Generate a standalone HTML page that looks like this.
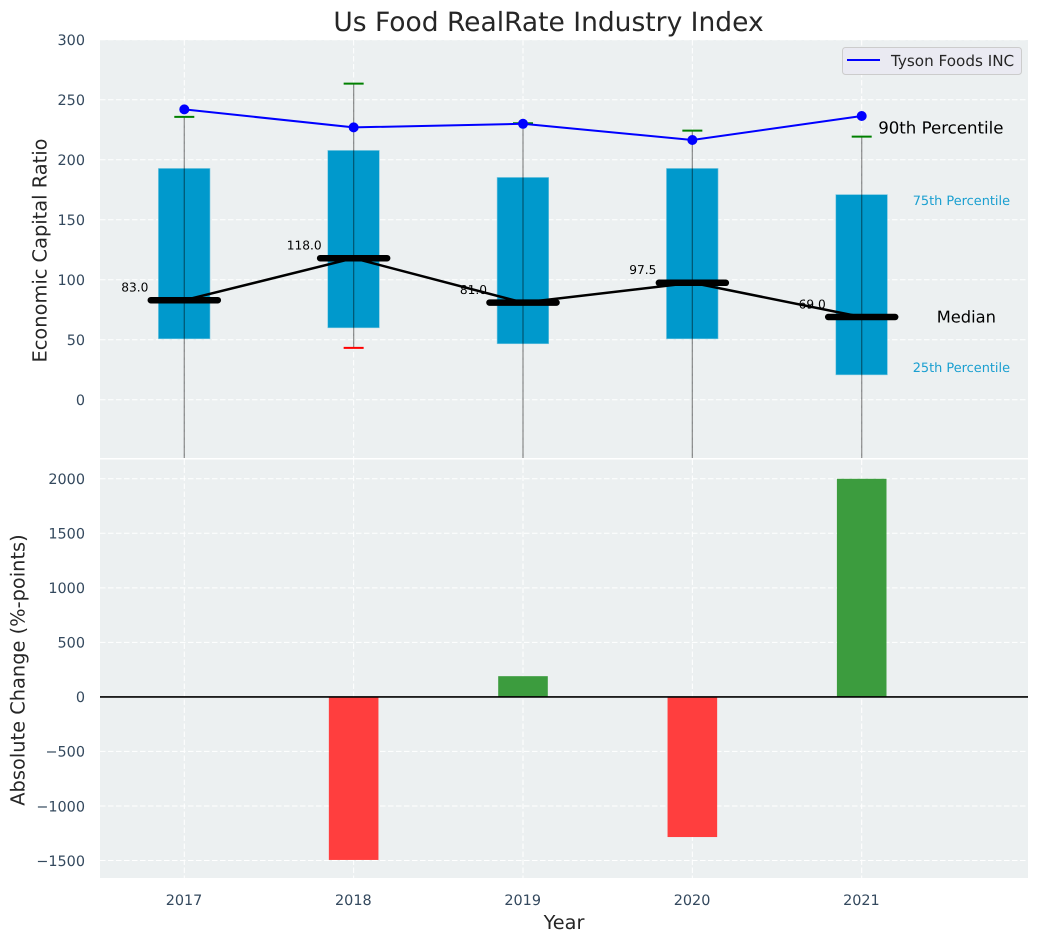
<!DOCTYPE html>
<html lang="en">
<head>
<meta charset="utf-8">
<title>Us Food RealRate Industry Index</title>
<style>
html,body{margin:0;padding:0;background:#fff;}
body{width:1039px;height:942px;overflow:hidden;}
svg{display:block;font-family:"DejaVu Sans","Liberation Sans",sans-serif;text-rendering:geometricPrecision;}
</style>
</head>
<body>
<svg id="chart" xmlns="http://www.w3.org/2000/svg" width="1039" height="942" viewBox="0 0 1039 942">
  <defs>
    <clipPath id="top-clip"><rect x="100" y="40" width="928" height="418"></rect></clipPath>
    <clipPath id="bottom-clip"><rect x="100" y="459.5" width="928" height="418.5"></rect></clipPath>
  </defs>
  <rect x="100" y="40" width="928" height="418" fill="#ecf0f1"></rect>
  <rect x="100" y="459.5" width="928" height="418.5" fill="#ecf0f1"></rect>
  <g id="top-grid"></g>
  <g id="bottom-grid"></g>
  <g id="top-marks" clip-path="url(#top-clip)"></g>
  <g id="bottom-marks" clip-path="url(#bottom-clip)"></g>
  <g id="axis-labels"></g>
  <g id="annotations"></g>
  <text x="548.5" y="31" text-anchor="middle" font-size="26.5px" fill="#262626">Us Food RealRate Industry Index</text>
  <text x="564" y="929" text-anchor="middle" font-size="19.3px" fill="#262626">Year</text>
  <text transform="translate(46.5 250.5) rotate(-90)" text-anchor="middle" font-size="19.4px" fill="#262626">Economic Capital Ratio</text>
  <text transform="translate(24.5 670) rotate(-90)" text-anchor="middle" font-size="19.4px" fill="#262626">Absolute Change (%-points)</text>
  <g>
    <rect x="842.5" y="47.5" width="179" height="27" rx="3" fill="#eaeaf2" stroke="#cccccc" stroke-width="1"></rect>
    <line x1="847" y1="60" x2="880" y2="60" stroke="#0000ff" stroke-width="2"></line>
    <text x="891" y="66" font-size="15.2px" fill="#262626">Tyson Foods INC</text>
  </g>
</svg>
<script>
const years = [2017, 2018, 2019, 2020, 2021];
const tyson = [242, 227, 230, 216.5, 236.5];
const q1 = [50.8, 60, 46.7, 50.8, 20.8];
const q3 = [192.8, 207.8, 185.3, 192.8, 171];
const medians = [83, 118, 81, 97.5, 69];
const p90 = [235.8, 263.5, 230.5, 224.3, 219.3];
const p10 = [-90, 43.3, -90, -90, -90];
const changes = [0, -1495, 190, -1285, 2000];
const topTicks = [0, 50, 100, 150, 200, 250, 300];
const bottomTicks = [-1500, -1000, -500, 0, 500, 1000, 1500, 2000];

const NS = 'http://www.w3.org/2000/svg';
const xs = v => 184.3 + (v - 2017) * 169.35;
const yTop = v => 399.8 - v * 1.2;
const yBottom = v => 696.9 - v * 0.10906;

function make(parent, tag, props, txt) {
  const el = document.createElementNS(NS, tag);
  for (const k in props) el.setAttribute(k, props[k]);
  if (txt !== undefined) el.textContent = txt;
  parent.appendChild(el);
  return el;
}
function fmtTick(v) {
  return v < 0 ? '\u2212' + Math.abs(v) : String(v);
}

const topGrid = document.getElementById('top-grid');
const bottomGrid = document.getElementById('bottom-grid');
const topMarks = document.getElementById('top-marks');
const bottomMarks = document.getElementById('bottom-marks');
const axisLabels = document.getElementById('axis-labels');
const annotations = document.getElementById('annotations');
const gridStyle = {stroke: '#ffffff', 'stroke-width': 1, 'stroke-dasharray': '5.5 2.5'};

topTicks.forEach(t => {
  const line = make(topGrid, 'line', Object.assign({x1: 100, x2: 1028, y1: yTop(t), y2: yTop(t)}, gridStyle));
  
  
  const label = make(axisLabels, 'text', {x: 85, y: yTop(t) + 5.3, 'text-anchor': 'end', 'font-size': '14.4px', fill: '#34495e'}, fmtTick(t));
  
  
});
bottomTicks.forEach(t => {
  const line = make(bottomGrid, 'line', Object.assign({x1: 100, x2: 1028, y1: yBottom(t), y2: yBottom(t)}, gridStyle));
  
  
  const label = make(axisLabels, 'text', {x: 85, y: yBottom(t) + 5.3, 'text-anchor': 'end', 'font-size': '14.4px', fill: '#34495e'}, fmtTick(t));
  
  
});
years.forEach(y => {
  const a = make(topGrid, 'line', Object.assign({x1: xs(y), x2: xs(y), y1: 40, y2: 458}, gridStyle));
  
  
  const b = make(bottomGrid, 'line', Object.assign({x1: xs(y), x2: xs(y), y1: 459.5, y2: 878}, gridStyle));
  
  
  const label = make(axisLabels, 'text', {x: xs(y) - 0.3, y: 905, 'text-anchor': 'middle', 'font-size': '14.4px', fill: '#34495e'}, String(y));
  
  
});

/* interquartile boxes */
years.forEach((y, i) => {
  const box = make(topMarks, 'rect', {x: xs(y) - 25.9, y: yTop(q3[i]), width: 51.6, height: yTop(q1[i]) - yTop(q3[i]), fill: '#0099cc', stroke: '#7cc8e0', 'stroke-width': 0.6});
  
  
});
/* whiskers and caps */
years.forEach((y, i) => {
  const w = make(topMarks, 'line', {x1: xs(y), x2: xs(y), y1: yTop(p90[i]), y2: yTop(p10[i]), stroke: '#000000', 'stroke-opacity': 0.42, 'stroke-width': 1.3});
  
  
  const capTop = make(topMarks, 'line', {x1: xs(y) - 10, x2: xs(y) + 10, y1: yTop(p90[i]), y2: yTop(p90[i]), stroke: '#008000', 'stroke-width': 2});
  
  
  const capLow = make(topMarks, 'line', {x1: xs(y) - 10, x2: xs(y) + 10, y1: yTop(p10[i]), y2: yTop(p10[i]), stroke: '#ff0000', 'stroke-width': 2});
  
  
});
/* median connecting line */
const medianLine = make(topMarks, 'polyline', {points: years.map((y, i) => xs(y) + ',' + yTop(medians[i])).join(' '), fill: 'none', stroke: '#000000', 'stroke-width': 2.5});


/* median bars and labels */
years.forEach((y, i) => {
  const m = make(topMarks, 'line', {x1: xs(y) - 33.5, x2: xs(y) + 33.5, y1: yTop(medians[i]), y2: yTop(medians[i]), stroke: '#000000', 'stroke-width': 6.5, 'stroke-linecap': 'round'});
  
  
  const t = make(annotations, 'text', {x: xs(y) - 49.5, y: yTop(medians[i]) - 8.7, 'text-anchor': 'middle', 'font-size': '12.2px', fill: '#000000'}, medians[i].toFixed(1));
  
  
});
/* company line */
const tysonLine = make(topMarks, 'polyline', {points: years.map((y, i) => xs(y) + ',' + yTop(tyson[i])).join(' '), fill: 'none', stroke: '#0000ff', 'stroke-width': 2});


years.forEach((y, i) => {
  const p = make(topMarks, 'circle', {cx: xs(y), cy: yTop(tyson[i]), r: 5, fill: '#0000ff'});
  
  
});
/* change bars */
years.forEach((y, i) => {
  const v = changes[i];
  const top = Math.min(yBottom(v), yBottom(0));
  const h = Math.abs(yBottom(v) - yBottom(0));
  const bar = make(bottomMarks, 'rect', {x: xs(y) - 24.8, y: top, width: 49.6, height: h, fill: v >= 0 ? '#3c9c3e' : '#ff3e3e'});
  
  
});
const zero = make(bottomMarks, 'line', {x1: 100, x2: 1028, y1: yBottom(0), y2: yBottom(0), stroke: '#000000', 'stroke-width': 1.6});



/* percentile annotations next to the last year */
const last = years.length - 1;
const lastX = xs(years[last]);
const a90 = make(annotations, 'text', {x: lastX + 16.5, y: yTop(p90[last]) - 3, 'font-size': '16.6px', fill: '#000000'}, '90th Percentile');


const a75 = make(annotations, 'text', {x: lastX + 51, y: yTop(q3[last]) + 10.5, 'font-size': '12.9px', fill: '#1a9fd0'}, '75th Percentile');


const a50 = make(annotations, 'text', {x: lastX + 75, y: yTop(medians[last]) + 5.5, 'font-size': '16.3px', fill: '#000000'}, 'Median');


const a25 = make(annotations, 'text', {x: lastX + 51, y: yTop(q1[last]) - 3, 'font-size': '12.9px', fill: '#1a9fd0'}, '25th Percentile');


</script>
</body>
</html>
